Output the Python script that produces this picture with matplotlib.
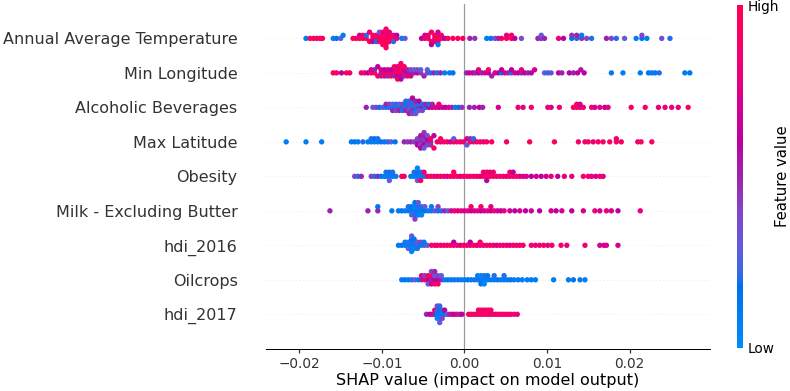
import numpy as np
import matplotlib
matplotlib.use("Agg")
import matplotlib.pyplot as plt
from matplotlib.colors import LinearSegmentedColormap

# shap values are in thousandths, second number is the normalised feature value
features = ["Annual Average Temperature", "Min Longitude", "Alcoholic Beverages",
            "Max Latitude", "Obesity", "Milk - Excluding Butter", "hdi_2016",
            "Oilcrops", "hdi_2017"]

temperature = [
    (-19.2, .1), (-18.7, .95), (-18.3, .95), (-17.9, .9), (-17.5, .95), (-17.2, .9),
    (-15.9, .1), (-15.5, .15), (-15.0, .3), (-14.7, .1),
    (-13.5, .95), (-13.1, .9), (-12.7, .95), (-12.7, .7), (-12.3, .95), (-12.3, .9),
    (-11.9, .95), (-11.9, .2), (-11.5, .95), (-11.5, .85), (-11.1, .95), (-11.1, .9),
    (-11.1, .6), (-10.7, .95), (-10.7, .9), (-10.7, .15), (-10.3, .95), (-10.3, .9),
    (-10.3, .95), (-10.3, .3), (-9.9, .95), (-9.9, .9), (-9.9, .95), (-9.9, .85),
    (-9.9, .95), (-9.5, .95), (-9.5, .9), (-9.5, .95), (-9.5, .85), (-9.5, .95),
    (-9.5, .95), (-9.5, .9), (-9.1, .95), (-9.1, .9), (-9.1, .95), (-9.1, .8),
    (-8.6, .95), (-8.6, .9), (-8.6, .2), (-8.2, .9), (-8.2, .6), (-7.6, .1), (-7.2, .3),
    (-5.2, .6), (-4.8, .9), (-4.8, .7), (-4.4, .95), (-4.4, .8), (-4.0, .95), (-4.0, .9),
    (-4.0, .6), (-3.6, .95), (-3.6, .9), (-3.6, .75), (-3.2, .95), (-3.2, .95), (-3.2, .9),
    (-3.2, .7), (-3.2, .1), (-2.8, .95), (-2.8, .8), (-2.4, .6), (-2.0, .9), (-1.4, .95),
    (-0.8, .9), (-0.2, .95),
    (0.65, .5), (1.25, .45), (2.7, .1), (3.2, .15), (3.7, .35), (4.1, .5), (4.5, .9),
    (5.1, .95), (5.1, .8), (5.7, .95), (5.7, .9), (6.1, .6), (6.9, .35), (8.9, .5),
    (9.3, .45), (9.3, .3), (9.7, .5), (11.4, .85), (12.0, .6), (13.0, .15), (13.0, .45),
    (13.6, .2), (13.6, .5), (14.2, .45), (14.2, .1), (14.8, .4), (15.4, .2), (17.2, .5),
    (17.8, .4), (18.4, .2), (19.4, .3), (20.8, .1), (21.5, .15), (21.5, .4), (22.1, .1),
    (23.9, .35), (24.9, .2),
]

min_longitude = [
    (-15.9, .95), (-15.5, .9), (-14.9, .6), (-14.3, .95), (-13.9, .9),
    (-12.5, .85), (-12.1, .9), (-11.7, .6), (-11.3, .95), (-11.3, .7), (-10.9, .9),
    (-10.9, .5), (-10.5, .95), (-10.5, .6), (-10.1, .9), (-10.1, .7), (-10.1, .5),
    (-9.7, .95), (-9.7, .6), (-9.7, .8), (-9.3, .95), (-9.3, .7), (-9.3, .5), (-8.9, .9),
    (-8.9, .6), (-8.9, .95), (-8.5, .95), (-8.5, .7), (-8.5, .5), (-8.5, .9), (-8.1, .95),
    (-8.1, .9), (-8.1, .6), (-8.1, .8), (-8.1, .95), (-7.7, .95), (-7.7, .9), (-7.7, .7),
    (-7.7, .95), (-7.7, .6), (-7.7, .85), (-7.3, .9), (-7.3, .6), (-7.3, .5), (-7.3, .95),
    (-6.9, .6), (-6.9, .5), (-6.9, .8), (-6.5, .5), (-6.5, .4), (-6.5, .7), (-6.1, .5),
    (-6.1, .3), (-5.7, .6), (-5.7, .4), (-5.3, .45), (-5.3, .3), (-4.9, .5), (-4.5, .4),
    (-4.5, .3), (-4.1, .2), (-3.7, .5), (-3.3, .1), (-2.9, .5), (-2.4, .1), (-1.8, .1),
    (-1.4, .15),
    (0.25, .5), (0.6, .6), (1.0, .7), (1.3, .5), (1.7, .6), (1.7, .8), (2.1, .5), (2.5, .7),
    (2.9, .6), (2.9, .9), (3.3, .5), (3.7, .7), (4.1, .6), (4.5, .15), (4.5, .6), (4.9, .7),
    (5.3, .5), (5.7, .2), (5.7, .6), (6.1, .7), (6.5, .6), (6.9, .5), (6.9, .8), (7.3, .6),
    (7.7, .5), (8.1, .6), (8.5, .7), (9.7, .3), (10.1, .2), (10.5, .35), (11.4, .6),
    (11.8, .5), (12.7, .6), (13.2, .5), (13.7, .6), (14.1, .55), (14.5, .6),
    (17.8, .1), (19.2, .1), (21.3, .1), (22.3, .15), (22.7, .1), (23.1, .1), (23.6, .2),
    (26.7, .1), (27.3, .15),
]

alcohol = [
    (-11.9, .5), (-11.1, .3), (-10.7, .4), (-10.3, .15), (-9.9, .3), (-9.5, .1), (-9.5, .5),
    (-9.1, .2), (-9.1, .4), (-8.7, .1), (-8.7, .3), (-8.7, .5), (-8.3, .1), (-8.3, .2),
    (-8.3, .4), (-7.9, .1), (-7.9, .3), (-7.9, .5), (-7.5, .15), (-7.5, .4), (-7.5, .2),
    (-7.1, .3), (-7.1, .1), (-7.1, .5), (-7.1, .2), (-6.7, .1), (-6.7, .4), (-6.7, .3),
    (-6.7, .2), (-6.7, .5), (-6.3, .3), (-6.3, .1), (-6.3, .5), (-6.3, .2), (-6.3, .4),
    (-6.3, .6), (-5.9, .2), (-5.9, .4), (-5.9, .1), (-5.9, .5), (-5.9, .3), (-5.5, .5),
    (-5.5, .1), (-5.5, .3), (-5.5, .6), (-5.1, .6), (-5.1, .2), (-5.1, .4), (-4.7, .1),
    (-4.7, .5), (-4.3, .6), (-4.3, .2), (-3.9, .7), (-3.9, .5), (-3.5, .8), (-3.1, .6),
    (-3.1, .85), (-2.7, .7), (-2.3, .6), (-1.9, .8), (-1.5, .5), (-1.1, .2), (-0.7, .15),
    (-0.3, .45),
    (0.6, .5), (1.2, .5), (1.8, .6), (2.2, .5), (4.1, .7), (6.5, .85), (7.1, .8), (8.1, .85),
    (10.1, .8), (10.5, .75), (11.5, .85), (13.2, .9), (13.6, .95), (13.6, .85), (14.0, .95),
    (14.0, .7), (14.4, .8), (15.4, .85), (15.8, .7), (16.4, .8), (17.0, .6), (17.4, .8),
    (20.2, .9), (21.9, .9), (23.5, .85), (24.3, .8), (25.1, .85), (25.9, .8), (27.1, .9),
]

max_latitude = [
    (-21.6, .1), (-19.2, .1), (-17.3, .1), (-13.7, .1), (-13.3, .15), (-12.9, .1),
    (-12.3, .2), (-11.7, .1), (-11.3, .1), (-11.3, .2), (-10.9, .1), (-10.9, .15),
    (-10.5, .1), (-10.5, .2), (-10.1, .15), (-9.7, .1), (-9.3, .2), (-8.9, .3), (-8.4, .15),
    (-7.3, .5), (-6.9, .45), (-6.5, .5), (-6.1, .4), (-5.7, .5), (-5.7, .4), (-5.7, .6),
    (-5.3, .5), (-5.3, .45), (-5.3, .35), (-5.3, .55), (-5.3, .6), (-4.9, .5), (-4.9, .4),
    (-4.9, .6), (-4.9, .55), (-4.9, .3), (-4.9, .45), (-4.5, .5), (-4.5, .6), (-4.5, .4),
    (-4.5, .35), (-4.1, .5), (-4.1, .9), (-4.1, .45), (-3.7, .6), (-3.7, .95), (-3.3, .9),
    (-2.9, .8), (-2.9, .95), (-2.5, .85), (-2.1, .9), (-1.7, .7), (-1.3, .95), (-1.3, .3),
    (-0.9, .9), (-0.5, .8), (-0.1, .9), (0.3, .7), (0.3, .3), (0.7, .95), (0.7, .5),
    (1.1, .9), (1.1, .2), (1.5, .85), (1.9, .9), (2.3, .8), (2.7, .95), (3.3, .9),
    (5.1, .9), (7.9, .95), (10.9, .95), (13.8, .9), (14.6, .85), (15.0, .9), (15.6, .8),
    (16.2, .95), (16.8, .85), (17.6, .9), (18.4, .95), (18.4, .8), (19.0, .9), (21.0, .85),
    (21.4, .9), (22.7, .9),
]

obesity = [
    (-13.3, .4), (-12.9, .2), (-12.5, .5), (-11.3, .4), (-10.9, .2), (-10.5, .5),
    (-10.1, .15), (-9.7, .1), (-9.5, .1), (-9.5, .2), (-9.1, .1), (-9.1, .15), (-9.1, .3),
    (-8.7, .1), (-8.7, .2), (-8.3, .1), (-7.6, .95), (-7.3, .9), (-6.5, .1), (-6.1, .1),
    (-6.1, .2), (-5.7, .1), (-5.7, .15), (-5.7, .3), (-5.7, .05), (-5.3, .1), (-5.3, .2),
    (-5.3, .9), (-4.9, .1), (-4.9, .8), (-4.5, .9), (-4.1, .95), (-3.7, .9), (-3.3, .8),
    (-2.9, .95), (-2.5, .9), (-2.1, .7), (-1.7, .95), (-1.3, .85), (-1.3, .95), (-0.9, .9),
    (-0.5, .7), (-0.1, .95), (0.3, .9), (0.7, .8), (1.1, .95), (1.5, .9), (1.9, .7),
    (2.3, .95), (2.3, .8), (2.7, .9), (2.7, .95), (2.7, .6), (3.1, .9), (3.1, .75),
    (3.5, .95), (3.5, .85), (3.9, .8), (4.3, .9), (4.7, .95), (5.1, .7), (5.5, .9),
    (5.5, .95), (5.9, .85), (5.9, .6), (6.3, .9), (6.7, .8), (7.1, .7), (7.5, .75),
    (8.1, .6), (8.7, .7), (9.3, .6), (9.9, .7), (10.5, .8), (11.3, .6), (12.1, .75),
    (13.0, .8), (14.4, .9), (15.0, .85), (15.4, .8), (15.9, .75), (16.4, .85), (16.8, .8),
]

milk = [
    (-16.3, .5), (-11.7, .5), (-10.5, .5), (-10.5, .15), (-8.8, .1), (-8.0, .1), (-7.6, .15),
    (-7.2, .1), (-6.8, .1), (-6.8, .2), (-6.4, .1), (-6.4, .15), (-6.4, .3), (-6.0, .1),
    (-6.0, .05), (-6.0, .2), (-6.0, .15), (-6.0, .4), (-5.6, .1), (-5.6, .2), (-5.6, .1),
    (-5.6, .3), (-5.2, .1), (-5.2, .2), (-5.2, .05), (-4.8, .15), (-4.8, .3), (-4.4, .1),
    (-4.0, .2), (-4.0, .1), (-3.6, .3), (-3.2, .15), (-3.2, .4), (-2.8, .2), (-2.4, .5),
    (-2.0, .3), (-1.6, .7), (-1.2, .8), (-0.8, .7), (-0.4, .85), (0.0, .7), (0.4, .8),
    (0.8, .6), (0.8, .9), (1.2, .7), (1.6, .8), (2.0, .6), (2.0, .9), (2.4, .7), (2.8, .8),
    (3.2, .6), (3.2, .75), (3.6, .85), (4.0, .7), (4.4, .6), (4.8, .8), (5.5, .7), (6.1, .6),
    (6.7, .7), (7.4, .6), (8.1, .7), (9.1, .6), (10.5, .7), (11.1, .6), (11.8, .7),
    (13.0, .6), (14.4, .7), (15.8, .8), (16.4, .7), (17.2, .8), (17.8, .7), (18.6, .6),
    (21.3, .8),
]

hdi_2016 = [
    (-8.0, .1), (-7.6, .15), (-7.2, .1), (-7.2, .2), (-6.8, .1), (-6.8, .05), (-6.8, .3),
    (-6.4, .1), (-6.4, .2), (-6.4, .1), (-6.4, .15), (-6.4, .05), (-6.4, .3), (-6.1, .1),
    (-6.1, .2), (-6.1, .05), (-6.1, .15), (-5.7, .1), (-5.7, .3), (-5.7, .2), (-5.3, .1),
    (-5.3, .4), (-4.9, .2), (-4.9, .1), (-4.5, .3), (-4.0, .9), (-3.6, .95), (-3.3, .8),
    (-2.9, .95), (-2.5, .9), (-2.1, .85), (-1.7, .95), (-1.3, .8), (-1.3, .6), (-0.9, .9),
    (-0.5, .7), (-0.1, .95), (0.3, .85), (0.7, .9), (0.7, .6), (1.1, .95), (1.5, .7),
    (1.9, .9), (1.9, .95), (2.3, .8), (2.7, .95), (3.1, .85), (3.5, .9), (3.9, .7),
    (4.3, .95), (4.7, .8), (5.1, .9), (5.5, .75), (5.9, .85), (6.3, .95), (6.7, .8),
    (7.1, .9), (8.1, .9), (8.6, .8), (9.1, .9), (9.6, .85), (10.1, .8), (10.6, .95),
    (11.7, .9), (12.4, .8), (14.6, .85), (16.4, .7), (16.9, .65), (17.2, .75), (18.6, .7),
]

oilcrops = [
    (-7.6, .1), (-7.2, .15), (-6.8, .1), (-6.4, .2), (-6.0, .3), (-5.6, .1), (-5.2, .5),
    (-5.2, .8), (-4.8, .9), (-4.8, .4), (-4.4, .6), (-4.4, .9), (-4.4, .3), (-4.0, .5),
    (-4.0, .95), (-4.0, .7), (-4.0, .4), (-3.6, .6), (-3.6, .3), (-3.6, .85), (-3.6, .5),
    (-3.2, .6), (-3.2, .4), (-3.2, .9), (-2.8, .5), (-2.8, .3), (-2.4, .1), (-2.0, .15),
    (-1.6, .1), (-1.2, .1), (-0.8, .2), (-0.4, .1), (0.0, .1), (0.4, .15), (0.8, .1),
    (1.2, .1), (1.6, .2), (1.6, .1), (2.0, .1), (2.0, .05), (2.0, .15), (2.4, .1), (2.4, .2),
    (2.4, .05), (2.8, .1), (2.8, .15), (3.2, .1), (3.6, .1), (3.6, .2), (4.0, .15),
    (4.4, .1), (4.8, .1), (4.8, .2), (5.2, .1), (5.6, .15), (6.0, .1), (6.5, .1), (7.0, .1),
    (7.6, .1), (8.1, .1), (8.6, .1), (10.8, .1), (12.6, .1), (13.2, .15), (14.0, .1),
    (14.6, .1),
]

hdi_2017 = [
    (-4.6, .5), (-4.2, .6), (-3.9, .7), (-3.6, .5), (-3.6, .8), (-3.3, .1), (-3.3, .2),
    (-3.3, .05), (-3.3, .4), (-3.0, .1), (-3.0, .15), (-3.0, .05), (-3.0, .2), (-3.0, .3),
    (-2.7, .1), (-2.7, .2), (-2.7, .4), (-2.4, .15), (-2.4, .6), (-2.1, .3), (-1.8, .5),
    (-1.5, .7), (-1.2, .6), (-0.9, .9), (-0.6, .5), (-0.3, .6), (0.5, .9), (0.8, .95),
    (1.1, .85), (1.4, .9), (1.7, .95), (1.7, .8), (2.0, .9), (2.0, .95), (2.3, .85),
    (2.3, .9), (2.6, .95), (2.6, .8), (2.9, .9), (2.9, .95), (3.2, .85), (3.2, .9),
    (3.5, .95), (3.8, .8), (4.1, .9), (4.4, .85), (4.7, .95), (5.0, .8), (5.3, .9),
    (5.6, .85), (6.0, .9), (6.4, .8),
]

rows = [temperature, min_longitude, alcohol, max_latitude, obesity, milk,
        hdi_2016, oilcrops, hdi_2017]

k = 0.89  # original was drawn at a lower dpi


def lch2rgb(l, c, h):
    a, b = c * np.cos(h), c * np.sin(h)
    fy = (l + 16) / 116
    f = np.array([fy + a / 500, fy, fy - b / 200])
    xyz = np.where(f > 6 / 29, f ** 3, 3 * (6 / 29) ** 2 * (f - 4 / 29))
    xyz = xyz * np.array([0.95047, 1.0, 1.08883])
    m = np.array([[3.2406, -1.5372, -0.4986],
                  [-0.9689, 1.8758, 0.0415],
                  [0.0557, -0.2040, 1.0570]])
    rgb = m @ xyz
    rgb = np.where(rgb <= 0.0031308, 12.92 * rgb,
                   1.055 * np.abs(rgb) ** (1 / 2.4) - 0.055)
    return np.clip(rgb, 0, 1)


# shap's red_blue map
nsteps = 100
l_vals = list(np.linspace(54, 40, nsteps // 2)) + list(np.linspace(40, 54, nsteps // 2))
c_vals = np.linspace(70, 90, nsteps)
h_vals = np.linspace(4.6588, 0.35470565 + 2 * np.pi, nsteps)
colors = [lch2rgb(l, c, h) for l, c, h in zip(l_vals, c_vals, h_vals)]
red_blue = LinearSegmentedColormap.from_list("red_blue", colors)


def swarm(shaps, row_height=0.4):
    nbins = 100
    quant = np.round(nbins * (shaps - shaps.min()) / (shaps.max() - shaps.min() + 1e-8))
    inds = np.argsort(quant, kind="stable")
    ys = np.zeros(len(shaps))
    layer, last_bin = 0, -1
    for ind in inds:
        if quant[ind] != last_bin:
            layer = 0
        ys[ind] = np.ceil(layer / 2) * ((layer % 2) * 2 - 1)
        layer += 1
        last_bin = quant[ind]
    ys *= 0.9 * (row_height / np.max(ys + 1))
    return ys


fig = plt.figure(figsize=(7.9, 3.91), dpi=100)
ax = fig.add_axes([0.3367, 0.108, 0.562, 0.882])

ax.axvline(x=0, color="#999999", lw=k, zorder=-1)
n = len(features)
for i, (name, row) in enumerate(zip(features, rows)):
    pos = n - 1 - i
    shaps = np.array([p[0] for p in row]) / 1000
    vals = np.array([p[1] for p in row])
    ax.axhline(y=pos, color="#cccccc", lw=0.5 * k, dashes=(1, 5), zorder=-1)
    ax.scatter(shaps, pos + swarm(shaps), c=vals, cmap=red_blue, vmin=0, vmax=1,
               s=15, linewidth=0, zorder=3)

ax.set_ylim(-1, n)
ax.set_yticks(range(n))
ax.set_yticklabels(features[::-1], fontsize=13 * k)
ax.xaxis.set_ticks_position("bottom")
ax.yaxis.set_ticks_position("none")
for side in ["right", "top", "left"]:
    ax.spines[side].set_visible(False)
ax.tick_params(color="#333333", labelcolor="#333333")
ax.tick_params("y", length=0, pad=23 * k)
ax.tick_params("x", labelsize=11 * k, width=k, length=3.5 * k, pad=3)
ax.spines["bottom"].set_linewidth(0.8 * k)
ax.set_xlabel("SHAP value (impact on model output)", fontsize=13 * k, labelpad=1)

cax = fig.add_axes([0.9329, 0.110, 0.0076, 0.8772])
sm = plt.cm.ScalarMappable(cmap=red_blue)
sm.set_array([0, 1])
cb = fig.colorbar(sm, cax=cax, ticks=[0, 1])
cb.set_ticklabels(["Low", "High"])
cb.set_label("Feature value", size=12 * k, labelpad=-3)
cb.ax.tick_params(labelsize=11 * k, length=0)
cb.outline.set_visible(False)

fig.savefig("out.png", dpi=100)
